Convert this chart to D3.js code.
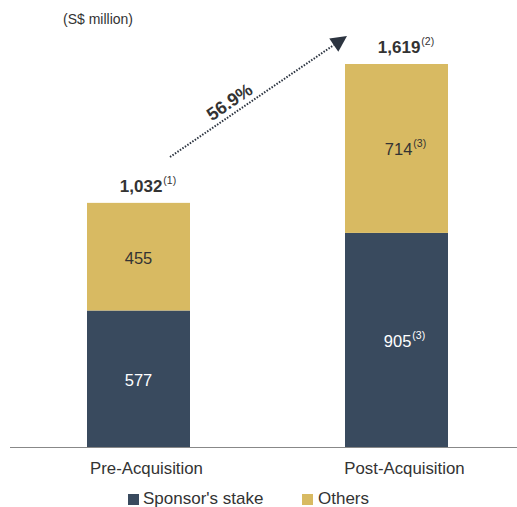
<!DOCTYPE html>
<html><head><meta charset="utf-8">
<script src="https://cdn.jsdelivr.net/npm/d3@7/dist/d3.min.js"></script>
<style>body{margin:0;background:#fff;font-family:"Liberation Sans",Arial,sans-serif;}</style>
</head><body>
<svg id="c" width="517" height="507"></svg>
<script>
const categories = ["Pre-Acquisition", "Post-Acquisition"];
const sponsorStake = [577, 905];
const others = [455, 714];
const totals = [1032, 1619];
const totalNotes = ["(1)", "(2)"];
const sponsorNotes = ["", "(3)"];
const othersNotes = ["", "(3)"];
const growthLabel = "56.9%";
const seriesNames = ["Sponsor's stake", "Others"];
const colors = ["#394a5e", "#d8ba62"];

const svg = d3.select("#c");
const baseY = 447;
const x = d3.scalePoint().domain(categories).range([138.5, 396.5]);
const y = d3.scaleLinear().domain([0, 1619]).range([baseY, 64]);

const bw = 103;
const cx = c => x(c);

const stacked = d3.stack().keys([0,1]).value((d,k)=>k===0?d.s:d.o)(categories.map((c,i)=>({c, s:sponsorStake[i], o:others[i]})));

stacked.forEach((layer, k) => {
  svg.append("g").selectAll("rect").data(layer).join("rect")
    .attr("x", d => cx(d.data.c) - bw/2)
    .attr("width", bw)
    .attr("y", d => y(d[1]))
    .attr("height", d => y(d[0]) - y(d[1]))
    .attr("fill", colors[k]);
});

function labelWithNote(g, xx, yy, txt, note, fill, bold, size) {
  const t = g.append("text").attr("x", xx).attr("y", yy).attr("text-anchor","middle")
    .attr("fill", fill).attr("font-size", size).attr("font-weight", bold?"bold":"normal");
  t.append("tspan").text(txt);
  if (note) t.append("tspan").attr("dx", 1).attr("dy", -8).attr("font-size", 10.5).attr("font-weight","normal").text(note);
}
const g = svg.append("g");
categories.forEach((c,i) => {
  const ms = (y(0)+y(sponsorStake[i]))/2;
  const mo = (y(sponsorStake[i])+y(totals[i]))/2;
  if (i === 0) {
    labelWithNote(g, cx(c), ms+7.5, sponsorStake[i], sponsorNotes[i], "#fff", false, 16.5);
    labelWithNote(g, cx(c), mo+7.5, others[i], othersNotes[i], "#333", false, 16.5);
  } else {
    labelWithNote(g, cx(c)+8, y(0)-100, sponsorStake[i], sponsorNotes[i], "#fff", false, 16.5);
    labelWithNote(g, cx(c)+9, y(totals[i])+91, others[i], othersNotes[i], "#333", false, 16.5);
  }
  labelWithNote(g, cx(c)+9.5, y(totals[i])-11, d3.format(",")(totals[i]), totalNotes[i], "#333", true, 17);
});

// axis line
svg.append("line").attr("x1",10).attr("x2",517).attr("y1",baseY+0.5).attr("y2",baseY+0.5)
  .attr("stroke","#888").attr("stroke-width",1);
svg.append("g").selectAll("text").data(categories).join("text")
  .attr("x", d=>cx(d)+8).attr("y", 474).attr("text-anchor","middle")
  .attr("font-size",16.8).attr("fill","#333").text(d=>d);

svg.append("text").attr("x",63).attr("y",24).attr("font-size",14).attr("fill","#333").text("(S$ million)");

// arrow
const x0 = 170, y0 = 157, x1 = 347, y1 = 36;
const ang = Math.atan2(y1-y0, x1-x0);
const headLen = 16;
const lx = x1 - headLen*Math.cos(ang), ly = y1 - headLen*Math.sin(ang);
svg.append("line").attr("x1",x0).attr("y1",y0).attr("x2",lx).attr("y2",ly)
  .attr("stroke","#2c3440").attr("stroke-width",2).attr("stroke-dasharray","1.5 1.5");
const perp = ang + Math.PI/2, hw = 8;
svg.append("path").attr("d", `M${x1},${y1}L${lx+hw*Math.cos(perp)},${ly+hw*Math.sin(perp)}L${lx-hw*Math.cos(perp)},${ly-hw*Math.sin(perp)}Z`)
  .attr("fill","#2c3440");
svg.append("text").attr("transform",`translate(233,107) rotate(${ang*180/Math.PI})`)
  .attr("text-anchor","middle").attr("font-size",18).attr("font-weight","bold").attr("fill","#333").text(growthLabel);

// legend
const leg = svg.append("g");
const lpos = [128, 302];
seriesNames.forEach((n,i) => {
  leg.append("rect").attr("x", lpos[i]).attr("y", 494).attr("width",11).attr("height",11).attr("fill",colors[i]);
  leg.append("text").attr("x", lpos[i]+(i===0?15:16)).attr("y", 504).attr("font-size",17).attr("fill","#333").text(n);
});
</script>
</body></html>
